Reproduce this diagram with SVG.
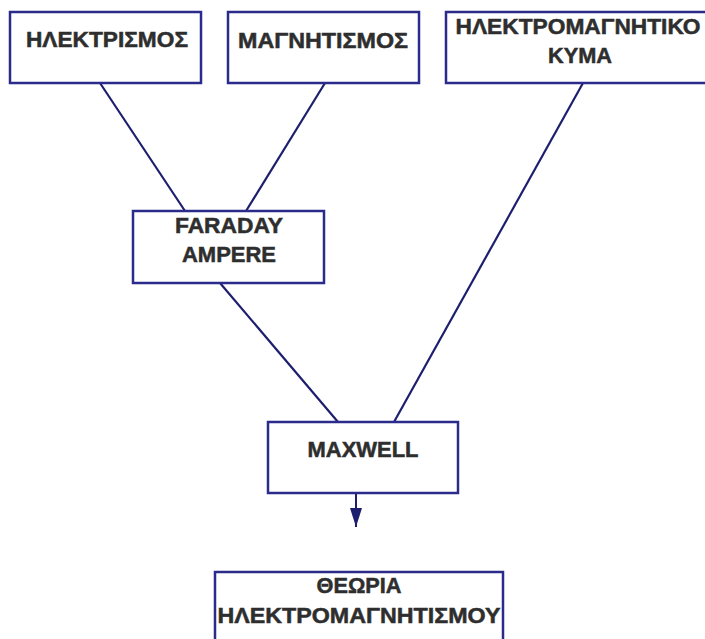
<svg xmlns="http://www.w3.org/2000/svg" width="705" height="639" viewBox="0 0 705 639">
<style>
.box{fill:#fff;stroke:#2b2b8c;stroke-width:2.5}
.t{font-family:"Liberation Sans",Arial,sans-serif;font-weight:bold;font-size:22px;fill:#2e2e2e;stroke:#2e2e2e;stroke-width:0.5;text-anchor:middle}
.c{stroke:#1e1e6e;stroke-width:2.2;fill:none}
</style>
<defs>
<marker id="ah" viewBox="0 0 19 12" refX="19" refY="6" markerWidth="19" markerHeight="12" markerUnits="userSpaceOnUse" orient="auto">
<path d="M0,0 L19,6 L0,12 z" fill="#1e1e6e"/>
</marker>
</defs>
<rect width="705" height="639" fill="#fff"/>
<g id="connectors">
<line class="c" x1="100" y1="83" x2="185" y2="211"/>
<line class="c" x1="325" y1="83" x2="246" y2="211"/>
<line class="c" x1="583" y1="83" x2="394" y2="422"/>
<line class="c" x1="220" y1="283" x2="338" y2="422"/>
<line class="c" x1="356" y1="474" x2="356" y2="527" marker-end="url(#ah)" style="stroke-width:2"/>
</g>
<g id="n-ilektrismos">
<rect class="box" x="10" y="12" width="191" height="71"/>
<text class="t" x="107" y="47" textLength="162" lengthAdjust="spacingAndGlyphs">ΗΛΕΚΤΡΙΣΜΟΣ</text>
</g>
<g id="n-magnitismos">
<rect class="box" x="228" y="12" width="191" height="71"/>
<text class="t" x="323" y="48" textLength="170" lengthAdjust="spacingAndGlyphs">ΜΑΓΝΗΤΙΣΜΟΣ</text>
</g>
<g id="n-kyma">
<rect class="box" x="446" y="12" width="270" height="71"/>
<text class="t" x="578" y="34" textLength="245" lengthAdjust="spacingAndGlyphs">ΗΛΕΚΤΡΟΜΑΓΝΗΤΙΚΟ</text>
<text class="t" x="580" y="63" textLength="64" lengthAdjust="spacingAndGlyphs">ΚΥΜΑ</text>
</g>
<g id="n-faraday">
<rect class="box" x="133" y="211" width="191" height="72"/>
<text class="t" x="229" y="233" textLength="108" lengthAdjust="spacingAndGlyphs">FARADAY</text>
<text class="t" x="229" y="262" textLength="94" lengthAdjust="spacingAndGlyphs">AMPERE</text>
</g>
<g id="n-maxwell">
<rect class="box" x="268" y="422" width="190" height="71"/>
<text class="t" x="363" y="457" textLength="111" lengthAdjust="spacingAndGlyphs">MAXWELL</text>
</g>
<g id="n-theoria">
<rect class="box" x="215" y="572" width="288" height="80"/>
<text class="t" x="359" y="593" textLength="85" lengthAdjust="spacingAndGlyphs">ΘΕΩΡΙΑ</text>
<text class="t" x="359" y="623" textLength="283" lengthAdjust="spacingAndGlyphs">ΗΛΕΚΤΡΟΜΑΓΝΗΤΙΣΜΟΥ</text>
</g>
</svg>
